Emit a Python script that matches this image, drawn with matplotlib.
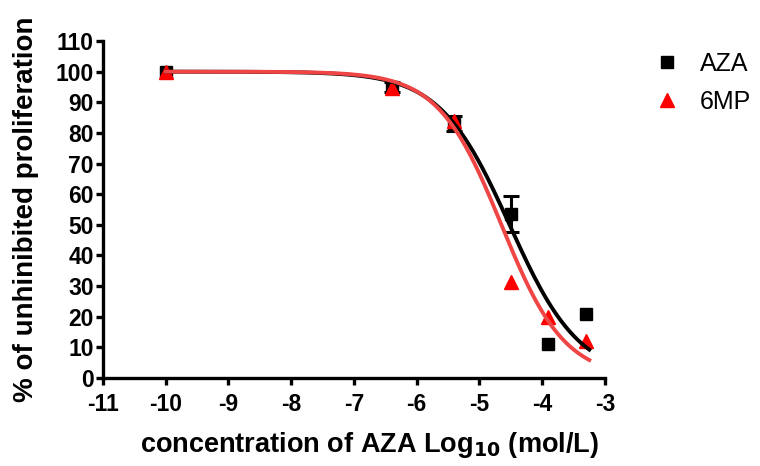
import numpy as np
import matplotlib.pyplot as plt
from matplotlib.lines import Line2D

plt.rcParams["font.family"] = ["Liberation Sans", "DejaVu Sans"]
plt.rcParams["axes.unicode_minus"] = False

# log10 concentrations and responses
log_conc = [-10.0, -6.4, -5.4, -4.5, -3.9, -3.3]
aza_resp = [100.0, 95.0, 83.0, 53.5, 11.2, 21.0]
aza_err = [0.0, 1.5, 2.5, 5.8, 0.0, 0.0]
mp_resp = [100.0, 94.5, 84.0, 31.5, 20.0, 12.0]

# fitted sigmoid parameters (top, bottom, logIC50, hill slope)
aza_fit = (100.0, 0.0, -4.52, 0.78)
mp_fit = (100.0, 0.0, -4.65, 0.86)
fit_range = (-10.0, -3.25)

x_ticks = list(range(-11, -2))
y_ticks = list(range(0, 111, 10))


def sigmoid(x, top, bottom, log_ic50, hill):
    return bottom + (top - bottom) / (1 + 10 ** ((x - log_ic50) * hill))


fig = plt.figure(figsize=(7.6, 4.66), dpi=100)
ax = fig.add_axes([0.1355, 0.1888, 0.6605, 0.7232])

# error bars only where there is a spread
err_idx = [i for i, e in enumerate(aza_err) if e > 0]
ax.errorbar([log_conc[i] for i in err_idx], [aza_resp[i] for i in err_idx],
            yerr=[aza_err[i] for i in err_idx], fmt="none", ecolor="black",
            capsize=6, elinewidth=2.2, capthick=2.2, clip_on=False, zorder=2)
ax.plot(log_conc, aza_resp, "s", color="black", ms=8.5, clip_on=False, zorder=2)
ax.plot(log_conc, mp_resp, "^", color="red", mec="red", ms=9.5,
        clip_on=False, zorder=3)

xf = np.linspace(fit_range[0], fit_range[1], 300)
ax.plot(xf, sigmoid(xf, *aza_fit), color="black", lw=2.8, zorder=4)
ax.plot(xf, sigmoid(xf, *mp_fit), color="#f04545", lw=2.8, zorder=5)

ax.set_xlim(-11, -3)
ax.set_ylim(0, 110)
ax.set_xticks(x_ticks)
ax.set_yticks(y_ticks)

for side in ["top", "right"]:
    ax.spines[side].set_visible(False)
for side in ["left", "bottom"]:
    ax.spines[side].set_linewidth(2.4)
ax.tick_params(width=2.4, length=5, labelsize=16.5)
ax.tick_params(axis="y", pad=1.5)
ax.tick_params(axis="x", pad=6)
for lbl in ax.get_xticklabels() + ax.get_yticklabels():
    lbl.set_fontweight("bold")

ax.set_xlabel("concentration of AZA Log$_\\mathbf{10}$ (mol/L)",
              fontsize=19.5, fontweight="bold", labelpad=7)
ax.set_ylabel("% of unhinibited proliferation", fontsize=20,
              fontweight="bold", labelpad=5)
ax.xaxis.set_label_coords(0.53, -0.155)
ax.yaxis.set_label_coords(-0.128, 0.5)

handles = [Line2D([], [], ls="none", marker="s", color="black", ms=8.5),
           Line2D([], [], ls="none", marker="^", color="red", ms=9.5)]
ax.legend(handles, ["AZA", "6MP"], loc="upper left",
          bbox_to_anchor=(0.861, 0.889), bbox_transform=fig.transFigure,
          frameon=False, fontsize=18, handlelength=1.0, borderpad=0,
          borderaxespad=0, handletextpad=0.82, labelspacing=0.56)

fig.savefig("out.png", dpi=100)
